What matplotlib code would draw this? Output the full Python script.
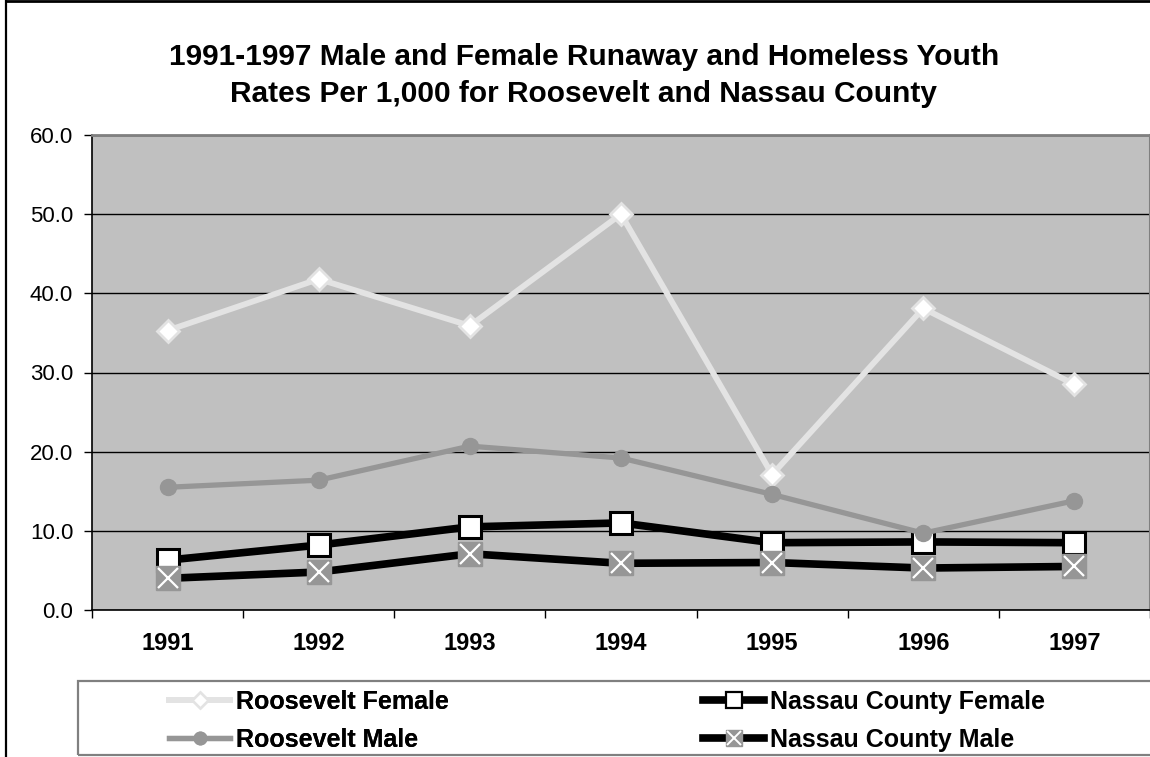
"""
plot.py: 1991-1997 runaway and homeless youth rates, Roosevelt vs Nassau County.
Writes out.png (1150x757).
"""
import matplotlib
matplotlib.use("Agg")
import matplotlib.pyplot as plt
from matplotlib.lines import Line2D
from matplotlib.patches import Rectangle

years = ["1991", "1992", "1993", "1994", "1995", "1996", "1997"]
roosevelt_female = [35.3, 41.8, 35.9, 50.0, 17.1, 38.1, 28.5]
roosevelt_male = [15.5, 16.4, 20.7, 19.2, 14.6, 9.7, 13.8]
nassau_female = [6.3, 8.2, 10.5, 11.0, 8.5, 8.6, 8.5]
nassau_male = [4.0, 4.8, 7.1, 5.9, 6.0, 5.3, 5.5]
y_ticks = [0, 10, 20, 30, 40, 50, 60]

TITLE = ("1991-1997 Male and Female Runaway and Homeless Youth\n"
         "Rates Per 1,000 for Roosevelt and Nassau County")
PLOT_BG, LIGHT, MID, BLACK = "#C0C0C0", "#E3E3E3", "#969696", "#000000"
FONT = "Liberation Sans"

plt.rcParams.update({"font.family": FONT, "font.size": 16})

W, H = 1150, 757
fig = plt.figure(figsize=(W / 100, H / 100), dpi=100)
ax = fig.add_axes([92 / W, 1 - 610 / H, 1058 / W, 475 / H])
ax.set_facecolor(PLOT_BG)

x = list(range(len(years)))
ax.plot(x, nassau_female, color=BLACK, lw=5.5, marker="s", ms=15.5,
        mfc="white", mec=BLACK, mew=2.2, zorder=3)
ax.plot(x, nassau_male, color=BLACK, lw=5.5, zorder=4)
ax.plot(x, nassau_male, ls="none", marker="s", ms=17, mfc=MID, mec=MID,
        zorder=4)
ax.plot(x, nassau_male, ls="none", marker="x", ms=15, mec="white", mew=1.6,
        zorder=4)
ax.plot(x, roosevelt_female, color=LIGHT, lw=4.2, marker="D", ms=11,
        mfc="white", mec=LIGHT, mew=2.0, zorder=5)
ax.plot(x, roosevelt_male, color=MID, lw=3.8, marker="o", ms=11.5,
        mfc=MID, mec=MID, zorder=6)

ax.set_xlim(-0.5, len(years) - 0.5)
ax.set_ylim(0, 60)
ax.set_yticks(y_ticks)
ax.set_yticklabels([f"{v:.1f}" for v in y_ticks])
ax.set_xticks(x)
ax.set_xticklabels(years, fontweight="bold", fontsize=17)
ax.set_xticks([i - 0.5 for i in range(len(years) + 1)], minor=True)
ax.tick_params(axis="x", which="major", length=0, pad=15.5)
ax.tick_params(axis="x", which="minor", length=5.5, width=1, direction="out")
ax.tick_params(axis="y", length=5.5, width=1, direction="out", pad=8)
ax.grid(axis="y", color=BLACK, lw=1.0)
ax.set_axisbelow(True)
ax.spines["top"].set_color("#808080")
ax.spines["top"].set_linewidth(2.0)
ax.spines["right"].set_color("#808080")
ax.spines["right"].set_linewidth(1.5)
ax.spines["left"].set_linewidth(1.2)
ax.spines["bottom"].set_linewidth(1.2)

fig.text(584 / W, 1 - 75.5 / H, TITLE, ha="center", va="center",
         fontsize=21.5, fontweight="bold", linespacing=1.45)

# outer chart border (top and left only are visible)
fig.add_artist(Line2D([5.5 / W, 5.5 / W], [0, 1], color=BLACK, lw=1.6,
                      transform=fig.transFigure))
fig.add_artist(Line2D([5.5 / W, 1], [1 - 1 / H, 1 - 1 / H], color=BLACK,
                      lw=2.0, transform=fig.transFigure))

# legend box, entries laid out as two columns
fig.add_artist(Rectangle((78 / W, 1 - 755 / H), 1080 / W, 74 / H,
                         transform=fig.transFigure, fill=False,
                         ec="#808080", lw=1.6))
h_rf = Line2D([], [], color=LIGHT, lw=4.2, marker="D", ms=8, mfc="white",
              mec=LIGHT, mew=1.8)
h_rm = Line2D([], [], color=MID, lw=3.8, marker="o", ms=9, mfc=MID, mec=MID)
h_nf = Line2D([], [], color=BLACK, lw=5.5, marker="s", ms=11, mfc="white",
              mec=BLACK, mew=1.6)
h_nm = (Line2D([], [], color=BLACK, lw=5.5),
        Line2D([], [], ls="none", marker="s", ms=12, mfc=MID, mec=MID),
        Line2D([], [], ls="none", marker="x", ms=10.5, mec="white", mew=1.4))
leg_kw = dict(loc="upper left", frameon=False, borderpad=0, borderaxespad=0,
              handlelength=2.45, handletextpad=0.22, labelspacing=0.55,
              prop={"family": FONT, "weight": "bold", "size": 18})
leg1 = fig.legend([h_rf, h_rm], ["Roosevelt Female", "Roosevelt Male"],
                  bbox_to_anchor=(169 / W, 1 - 690 / H), **leg_kw)
fig.add_artist(leg1)
fig.legend([h_nf, h_nm], ["Nassau County Female", "Nassau County Male"],
           bbox_to_anchor=(703 / W, 1 - 690 / H), **leg_kw)

fig.savefig("out.png", dpi=100)
